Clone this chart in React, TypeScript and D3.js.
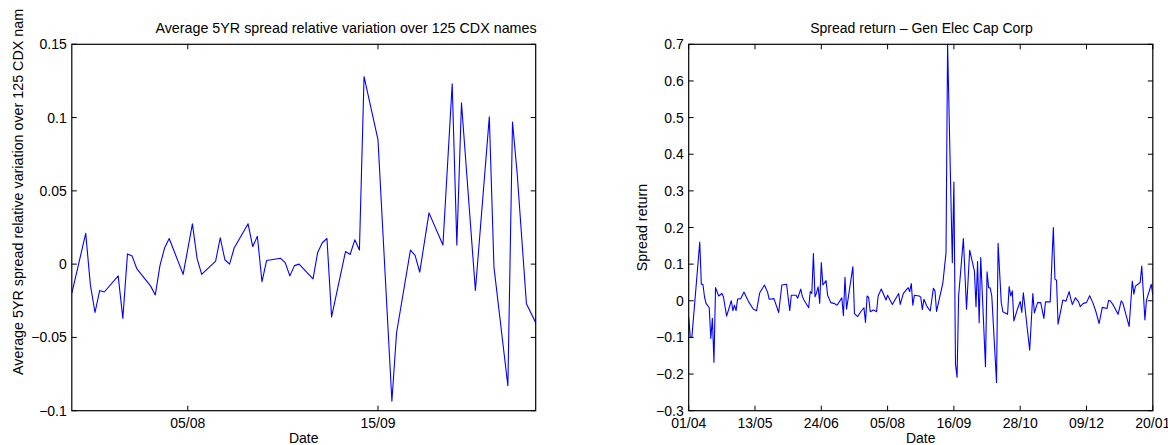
import React from "react";
import * as d3 from "d3";

// ---------- Left panel data ----------
const leftStartDate = "2008-07-11";
const leftEndDate = "2008-10-19";
const leftDays = [
  0, 3, 4, 5, 6, 7, 10, 11, 12, 13,
  14, 17, 18, 19, 20, 21, 24, 26, 27, 28,
  31, 32, 33, 34, 35, 38, 39, 40, 41, 42,
  45, 46, 47, 48, 49, 52, 53, 54, 55, 56,
  59, 60, 61, 62, 63, 66, 69, 70, 73, 74,
  75, 77, 80, 82, 83, 84, 87, 90, 91, 94,
  95, 96, 98, 100,
];
const leftValues = [
  -0.02, 0.021, -0.014, -0.033, -0.018, -0.019, -0.008, -0.037, 0.007, 0.0055,
  -0.003, -0.015, -0.021, -0.001, 0.011, 0.0175, -0.007, 0.0275, 0.004, -0.007,
  0.002, 0.018, 0.003, 0, 0.011, 0.0275, 0.012, 0.019, -0.012, 0.0025,
  0.004, 0.001, -0.008, -0.001, 0, -0.01, 0.008, 0.0146, 0.0175, -0.036,
  0.0086, 0.0066, 0.0166, 0.0096, 0.128, 0.085, -0.0935, -0.047, 0.0096, 0.006,
  -0.0055, 0.035, 0.013, 0.123, 0.013, 0.11, -0.018, 0.1005, -0.002, -0.083,
  0.097, 0.062, -0.027, -0.04,
];
const leftTickDates = ["2008-08-05", "2008-09-15"];
const leftYTicks = [-0.1, -0.05, 0, 0.05, 0.1, 0.15];
const leftTitle = "Average 5YR spread relative variation over 125 CDX names";
const leftYLabel = "Average 5YR spread relative variation over 125 CDX nam";

// ---------- Right panel data ----------
const rightStartDate = "2008-04-01";
const rightEndDate = "2009-01-20";
const rightDays = [
  0, 1, 2, 7, 8, 9, 10, 11, 13, 14,
  15, 16, 17, 19, 21, 22, 24, 27, 28, 29,
  30, 31, 33, 35, 36, 38, 41, 42, 43, 45,
  48, 50, 51, 54, 57, 59, 62, 64, 65, 68,
  69, 71, 72, 73, 76, 77, 78, 79, 80, 81,
  82, 83, 84, 85, 87, 88, 90, 92, 94, 97,
  98, 99, 100, 104, 105, 107, 109, 111, 112, 113,
  114, 115, 117, 118, 119, 120, 122, 125, 126, 129,
  133, 134, 136, 139, 140, 141, 142, 143, 146, 147,
  148, 149, 151, 153, 155, 156, 157, 159, 161, 163,
  164, 167, 168, 169, 170, 171, 174, 176, 178, 181,
  182, 183, 184, 185, 188, 189, 190, 191, 192, 195,
  196, 198, 199, 202, 203, 204, 205, 206, 208, 210,
  211, 212, 216, 218, 219, 221, 223, 225, 226, 229,
  231, 232, 233, 234, 237, 239, 241, 242, 243, 245,
  247, 248, 250, 252, 254, 256, 258, 260, 262, 265,
  266, 267, 269, 272, 274, 275, 279, 281, 282, 283,
  286, 287, 289, 290, 293, 294,
];
const rightValues = [
  -0.045, -0.1, -0.1, 0.16, 0.045, 0.045, 0.011, -0.007, -0.019, -0.103,
  -0.048, -0.168, 0.036, 0.013, 0.02, 0.011, -0.042, 0, -0.027, -0.012,
  -0.027, 0.005, 0.006, 0.024, 0.015, -0.003, -0.023, -0.025, -0.027, 0.022,
  0.043, 0.023, 0.004, 0.006, -0.032, 0.043, 0.045, -0.027, 0.015, 0.015,
  0.007, 0.032, 0.012, 0.002, -0.019, 0.025, 0.02, 0.129, 0.011, 0.022,
  0.038, -0.007, 0.104, 0.043, 0.055, 0.015, -0.005, -0.007, -0.012, 0.008,
  -0.041, 0.064, -0.023, 0.093, -0.035, -0.043, -0.03, -0.019, -0.059, 0.013,
  0.009, -0.03, -0.025, -0.027, -0.03, 0.013, 0.032, 0.002, 0.015, -0.01,
  0.02, -0.01, 0.02, 0.036, 0.025, 0.047, -0.012, 0.015, 0.013, 0.01,
  -0.024, 0.004, -0.016, -0.028, 0.034, 0.027, -0.029, 0.01, 0.048, 0.131,
  0.7, 0.104, 0.324, -0.173, -0.209, 0.013, 0.17, -0.023, 0.138, 0.081,
  -0.016, 0.107, -0.06, 0.118, -0.18, 0.079, 0.036, 0.035, 0.013, -0.223,
  0.157, -0.005, -0.03, -0.037, 0.039, 0.013, 0.027, -0.055, -0.026, -0.002,
  -0.032, 0.022, -0.135, 0.02, -0.033, -0.005, -0.005, -0.048, -0.003, -0.003,
  0.2, 0.059, 0.056, -0.064, 0.002, -0.001, 0.025, 0.006, -0.01, 0.008,
  -0.003, -0.016, -0.007, -0.005, 0.014, -0.005, -0.03, -0.062, -0.018, -0.021,
  0.001, 0, -0.012, -0.037, 0, -0.006, -0.07, 0.054, 0.018, 0.04,
  0.05, 0.095, -0.052, 0.002, 0.045, 0.016,
];
const rightTickDates = [
  "2008-04-01", "2008-05-13", "2008-06-24", "2008-08-05",
  "2008-09-16", "2008-10-28", "2008-12-09", "2009-01-20",
];
const rightYTicks = [-0.3, -0.2, -0.1, 0, 0.1, 0.2, 0.3, 0.4, 0.5, 0.6, 0.7];
const rightTitle = "Spread return \u2013 Gen Elec Cap Corp";
const rightYLabel = "Spread return";
const xLabel = "Date";

// ---------- Rendering ----------
const W = 1168;
const H = 445;
const FONT = "'Liberation Sans', Arial, Helvetica, sans-serif";
const parse = d3.timeParse("%Y-%m-%d");
const fmt = d3.timeFormat("%d/%m");
const fmtY = (v: number) =>
  v === 0 ? "0" : (v < 0 ? "\u2212" : "") + String(Math.abs(v));

type PanelProps = {
  id: string;
  box: { x0: number; x1: number; y0: number; y1: number };
  start: string;
  end: string;
  days: number[];
  values: number[];
  tickDates: string[];
  yTicks: number[];
  title: string;
  titleX: number;
  titleSize: number;
  yLabel: string;
  yLabelX: number;
  yLabelY: number;
  yLabelAnchor: "start" | "middle" | "end";
};

function Panel(p: PanelProps) {
  const s = parse(p.start) as Date;
  const e = parse(p.end) as Date;
  const x = d3.scaleTime().domain([s, e]).range([p.box.x0, p.box.x1]);
  const yDom = d3.extent(p.yTicks) as [number, number];
  const y = d3.scaleLinear().domain(yDom).range([p.box.y1, p.box.y0]);
  const pts = p.days.map((d, i) => ({ date: d3.timeDay.offset(s, d), v: p.values[i] }));
  const line = d3
    .line<{ date: Date; v: number }>()
    .x((d) => x(d.date))
    .y((d) => y(d.v));
  const tl = 5;
  const { x0, x1, y0, y1 } = p.box;
  return (
    <g>
      <defs>
        <clipPath id={p.id}>
          <rect x={x0} y={y0} width={x1 - x0} height={y1 - y0} />
        </clipPath>
      </defs>
      <path
        d={line(pts) || ""}
        fill="none"
        stroke="#0000ff"
        strokeWidth={1.1}
        strokeLinejoin="round"
        clipPath={`url(#${p.id})`}
      />
      <rect x={x0} y={y0} width={x1 - x0} height={y1 - y0} fill="none" stroke="#000" strokeWidth={1.2} />
      {p.yTicks.map((t) => (
        <g key={"y" + t}>
          <line x1={x0} x2={x0 + tl} y1={y(t)} y2={y(t)} stroke="#000" />
          <line x1={x1 - tl} x2={x1} y1={y(t)} y2={y(t)} stroke="#000" />
          <text x={x0 - 5} y={y(t) + 5} textAnchor="end" fontSize={14} fontFamily={FONT} fill="#000">
            {fmtY(t)}
          </text>
        </g>
      ))}
      {p.tickDates.map((td) => {
        const d = parse(td) as Date;
        const px = x(d);
        return (
          <g key={"x" + td}>
            <line x1={px} x2={px} y1={y1} y2={y1 - tl} stroke="#000" />
            <line x1={px} x2={px} y1={y0} y2={y0 + tl} stroke="#000" />
            <text x={px} y={428} textAnchor="middle" fontSize={14} fontFamily={FONT} fill="#000">
              {fmt(d)}
            </text>
          </g>
        );
      })}
      <text x={p.titleX} y={33} textAnchor="middle" fontSize={p.titleSize} fontFamily={FONT} fill="#000">
        {p.title}
      </text>
      <text x={(x0 + x1) / 2} y={443} textAnchor="middle" fontSize={14} fontFamily={FONT} fill="#000">
        {xLabel}
      </text>
      <text
        transform={`translate(${p.yLabelX},${p.yLabelY}) rotate(-90)`}
        textAnchor={p.yLabelAnchor}
        fontSize={14.3}
        fontFamily={FONT}
        fill="#000"
      >
        {p.yLabel}
      </text>
    </g>
  );
}

export default function App() {
  return (
    <div style={{ position: "absolute", left: 0, top: 0, width: W, height: H, background: "#fff" }}>
      <svg width={W} height={H} viewBox={`0 0 ${W} ${H}`} style={{ display: "block" }}>
        <rect width={W} height={H} fill="#fff" />
        <Panel
          id="clipL"
          box={{ x0: 71.8, x1: 535.7, y0: 44.3, y1: 410.7 }}
          start={leftStartDate}
          end={leftEndDate}
          days={leftDays}
          values={leftValues}
          tickDates={leftTickDates}
          yTicks={leftYTicks}
          title={leftTitle}
          titleX={346}
          titleSize={14.3}
          yLabel={leftYLabel}
          yLabelX={23}
          yLabelY={375}
          yLabelAnchor="start"
        />
        <Panel
          id="clipR"
          box={{ x0: 688.7, x1: 1152.8, y0: 44.3, y1: 410.7 }}
          start={rightStartDate}
          end={rightEndDate}
          days={rightDays}
          values={rightValues}
          tickDates={rightTickDates}
          yTicks={rightYTicks}
          title={rightTitle}
          titleX={921.5}
          titleSize={14}
          yLabel={rightYLabel}
          yLabelX={647}
          yLabelY={227.5}
          yLabelAnchor="middle"
        />
      </svg>
    </div>
  );
}
